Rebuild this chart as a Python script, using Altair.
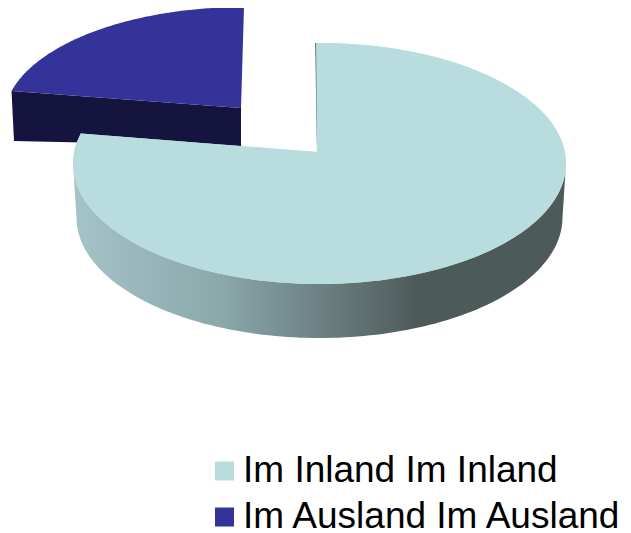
import math
import altair as alt
import pandas as pd

categories = ["Im Inland Im Inland", "Im Ausland Im Ausland"]
shares = [79.0, 21.0]
top_colors = ["#b9dcde", "#333399"]
wall_dark = "#15143f"
W, H = 615, 525


def ell(c, t):
    r = math.radians(t)
    return (c[0] + c[2] * math.sin(r) - 8, c[1] - c[3] * math.cos(r) - 8)


def arc(c, a, b, n=120):
    return [ell(c, a + (b - a) * i / n) for i in range(n + 1)]


def frame(points, name):
    return pd.DataFrame(
        [{"px": p[0], "py": p[1], "i": i, "part": name} for i, p in enumerate(points)]
    )


end_angle = shares[0] / 100 * 360

# ellipses: centre x, centre y, radius x, radius y (page pixels)
big_top = (319.5, 163.5, 246.5, 120.5)
big_bot = (319.5, 217.5, 243.0, 120.5)
small_top = (244.0, 118.8, 240.0, 111.8)
big_apex = (317 - 8, 152 - 8)
small_apex = (241 - 8, 108 - 8)
small_apex_low = (241 - 8, 146 - 8)

x = alt.X("px:Q", scale=alt.Scale(domain=[0, W], range=[0, W], nice=False, zero=False), axis=None)
y = alt.Y("py:Q", scale=alt.Scale(domain=[0, H], range=[0, H], nice=False, zero=False), axis=None)
order = alt.Order("i:Q")


def poly(points, name, fill):
    return alt.Chart(frame(points, name)).mark_line(fill=fill, strokeWidth=0).encode(
        x=x, y=y, order=order
    )


# small slice: inner wall
small_left = ell(small_top, end_angle)
small_left_low = (14 - 8, 141 - 8)
small_wall = poly([small_left, small_apex, small_apex_low, small_left_low], "sw", wall_dark)

# big slice: curved wall with gradient
gradient = alt.LinearGradient(
    gradient="linear",
    x1=0, x2=1, y1=0, y2=0,
    stops=[
        alt.GradientStop(offset=0, color="#a5c4c7"),
        alt.GradientStop(offset=0.3, color="#8ba8ab"),
        alt.GradientStop(offset=0.7, color="#4d5a5a"),
        alt.GradientStop(offset=1, color="#4d5a5a"),
    ],
)
big_wall = poly(arc(big_top, 90, 270) + arc(big_bot, 270, 90), "bw", gradient)

# thin dark edge of the big slice
edge = poly([ell(big_top, -1), big_apex, (big_apex[0] + 1.5, big_apex[1]), ell(big_top, -0.6)], "edge", "#4d5a5a")

# top faces with legend
top_rows = pd.concat([
    frame([big_apex] + arc(big_top, -0.8, end_angle), categories[0]),
    frame([small_apex] + arc(small_top, end_angle, 360), categories[1]),
])
tops = alt.Chart(top_rows).mark_line(strokeWidth=0).encode(
    x=x, y=y, order=order,
    fill=alt.Fill(
        "part:N",
        scale=alt.Scale(domain=categories, range=top_colors),
        legend=alt.Legend(
            title=None,
            orient="none",
            legendX=198,
            legendY=444.5,
            symbolType="square",
            symbolSize=361,
            symbolStrokeWidth=0,
            symbolOpacity=1,
            labelFontSize=37,
            labelFont="Liberation Sans",
            labelColor="#000000",
            labelLimit=500,
            rowPadding=8,
            labelOffset=0,
        ),
    ),
)
big_face = poly([big_apex] + arc(big_top, -0.8, end_angle), "bt", top_colors[0])

chart = alt.layer(small_wall, tops, big_wall, edge, big_face).properties(
    width=W, height=H, padding=0,
    autosize=alt.AutoSizeParams(type="none"),
).configure_view(stroke=None)

chart.save("out.html", embed_options={"renderer": "svg", "actions": False})
